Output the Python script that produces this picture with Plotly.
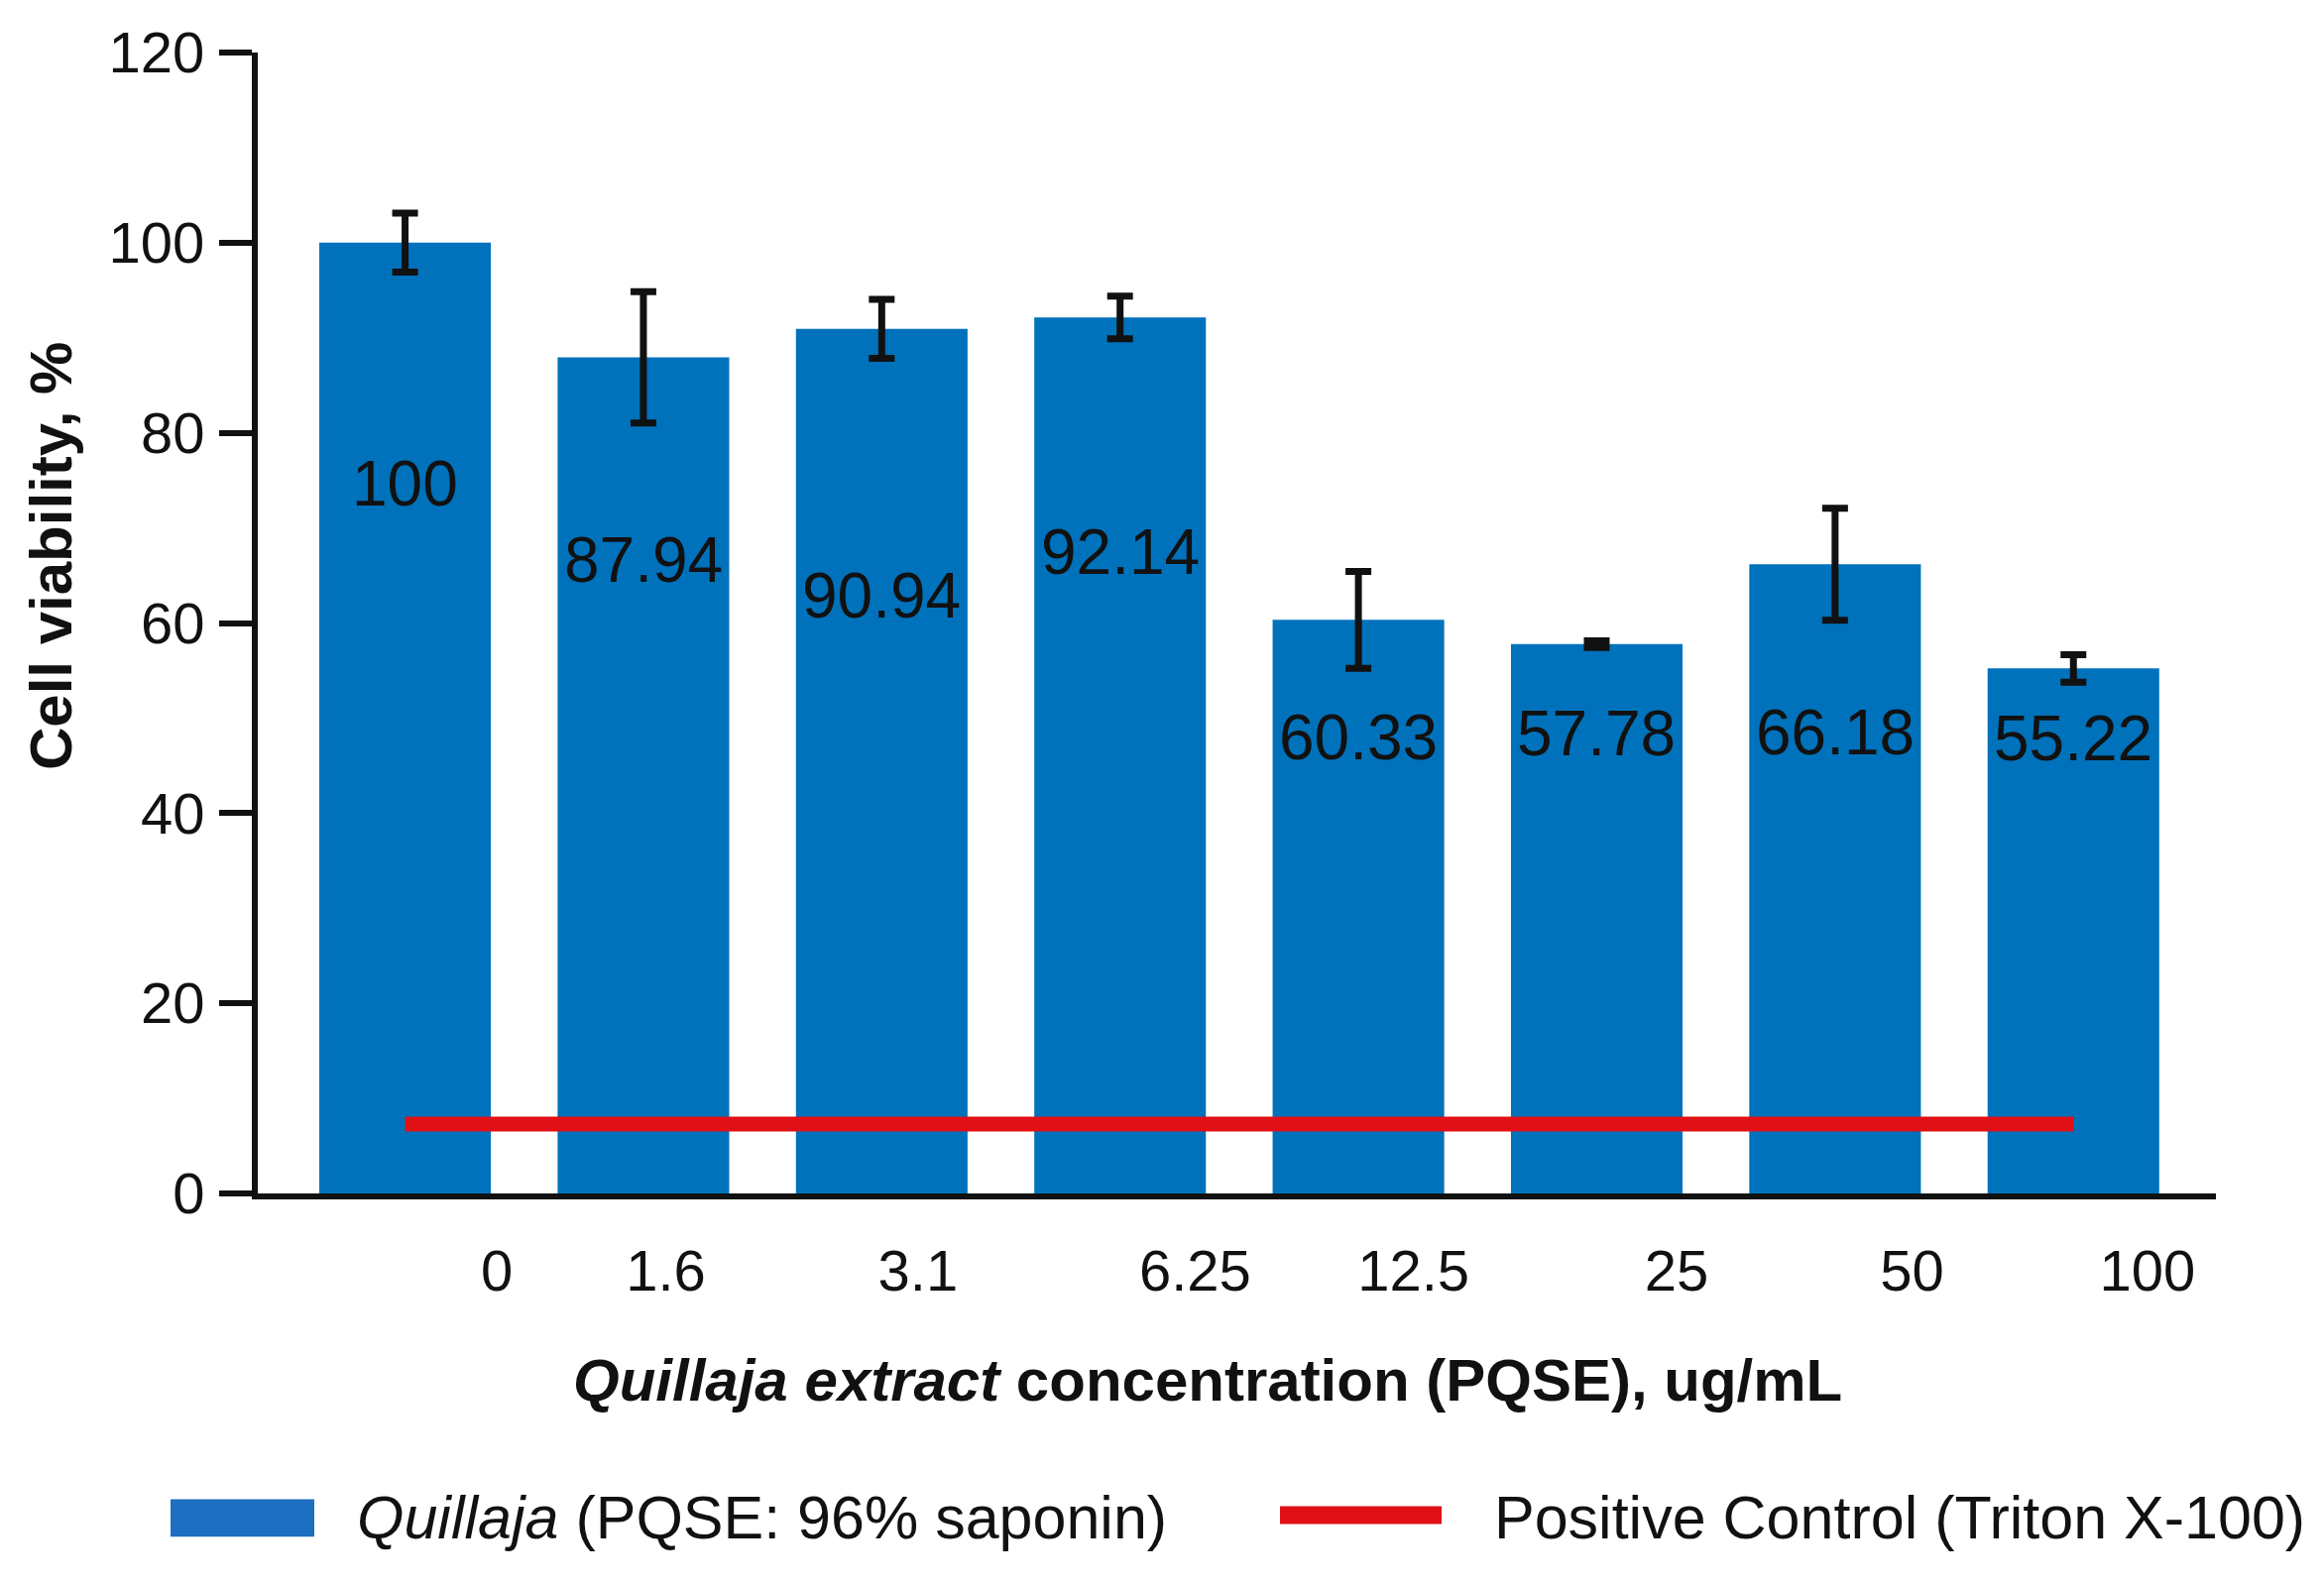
import plotly.graph_objects as go

# ---- data ----
concentrations = ["0", "1.6", "3.1", "6.25", "12.5", "25", "50", "100"]
viability = [100, 87.94, 90.94, 92.14, 60.33, 57.78, 66.18, 55.22]
viability_err = [3.1, 6.9, 3.1, 2.25, 5.1, 0.35, 5.9, 1.45]
positive_control = [7.3, 7.3, 7.3, 7.3, 7.3, 7.3, 7.3, 7.3]
y_ticks = [0, 20, 40, 60, 80, 100, 120]

# ---- layout helpers (positions/styles) ----
bar_pos = list(range(len(concentrations)))
tick_label_pos = [0.385, 1.094, 2.152, 3.315, 4.231, 5.335, 6.323, 7.31]
value_label_y = [74.6, 66.6, 62.9, 67.5, 48.0, 48.4, 48.5, 47.9]

FONT = "Liberation Sans, Arial, Helvetica, sans-serif"
BLUE = "#0072bc"
RED = "#e01016"

W, H = 2344, 1598
PAGE_OFFSET = 8  # browser body margin
L, R, T, B = 260 - PAGE_OFFSET, 109 + PAGE_OFFSET, 44 - PAGE_OFFSET, 394 + PAGE_OFFSET
PW, PH = W - L - R, H - T - B
PLOT_LEFT_SCREEN, PLOT_BOTTOM_SCREEN = 260, 1204


def px_x(px):
    return (px - PLOT_LEFT_SCREEN) / PW


def px_y(py):
    return (PLOT_BOTTOM_SCREEN - py) / PH


fig = go.Figure()

fig.add_trace(go.Bar(
    x=bar_pos,
    y=viability,
    name="Quillaja (PQSE: 96% saponin)",
    marker=dict(color=BLUE, line=dict(width=0)),
    error_y=dict(type="data", array=viability_err, visible=True,
                 color="#111111", thickness=7, width=13),
    showlegend=False,
))

fig.add_trace(go.Scatter(
    x=bar_pos,
    y=positive_control,
    name="Positive Control (Triton X-100)",
    mode="lines",
    line=dict(color=RED, width=15),
    showlegend=False,
))

annotations = []
for xi, v, ly in zip(bar_pos, viability, value_label_y):
    annotations.append(dict(
        x=xi, y=ly, xref="x", yref="y", text=f"{v:g}", showarrow=False,
        font=dict(family=FONT, size=64, color="#111111"),
        xanchor="center", yanchor="middle",
    ))

# y-axis title
annotations.append(dict(
    x=px_x(51), y=px_y(556), xref="paper", yref="paper",
    text="<b>Cell viability, %</b>", textangle=-90, showarrow=False,
    font=dict(family=FONT, size=60, color="#111111"),
    xanchor="center", yanchor="middle",
))

# x-axis title
annotations.append(dict(
    x=px_x(1218), y=px_y(1394), xref="paper", yref="paper",
    text="<b><i>Quillaja extract</i> concentration (PQSE), ug/mL</b>", showarrow=False,
    font=dict(family=FONT, size=60, color="#111111"),
    xanchor="center", yanchor="middle",
))

# custom legend texts
annotations.append(dict(
    x=px_x(358), y=px_y(1534), xref="paper", yref="paper",
    text="<i>Quillaja</i> (PQSE: 96% saponin)", showarrow=False,
    font=dict(family=FONT, size=61, color="#111111"),
    xanchor="left", yanchor="middle",
))
annotations.append(dict(
    x=px_x(1505), y=px_y(1534), xref="paper", yref="paper",
    text="Positive Control (Triton X-100)", showarrow=False,
    font=dict(family=FONT, size=61, color="#111111"),
    xanchor="left", yanchor="middle",
))

shapes = [
    dict(type="rect", xref="paper", yref="paper",
         x0=px_x(172), x1=px_x(317), y0=px_y(1553), y1=px_y(1515),
         fillcolor="#1c6fc1", line=dict(width=0)),
    dict(type="line", xref="paper", yref="paper",
         x0=px_x(1291), x1=px_x(1454), y0=px_y(1531), y1=px_y(1531),
         line=dict(color=RED, width=18)),
]

fig.update_layout(
    width=W, height=H,
    margin=dict(l=L, r=R, t=T, b=B, pad=0),
    paper_bgcolor="white", plot_bgcolor="white",
    bargap=0.28,
    showlegend=False,
    annotations=annotations,
    shapes=shapes,
    font=dict(family=FONT, color="#111111"),
    xaxis=dict(
        range=[-0.618, 7.598],
        tickmode="array", tickvals=tick_label_pos, ticktext=concentrations,
        ticks="", showgrid=False, zeroline=False,
        showline=True, linecolor="#111111", linewidth=6,
        tickfont=dict(family=FONT, size=58, color="#111111"),
        ticklabelstandoff=22,
    ),
    yaxis=dict(
        range=[0, 120],
        tickmode="array", tickvals=y_ticks,
        ticks="outside", ticklen=33, tickwidth=6, tickcolor="#111111",
        showgrid=False, zeroline=False,
        showline=True, linecolor="#111111", linewidth=6,
        tickfont=dict(family=FONT, size=58, color="#111111"),
        ticklabelstandoff=3,
    ),
)

fig.write_html("out.html")
